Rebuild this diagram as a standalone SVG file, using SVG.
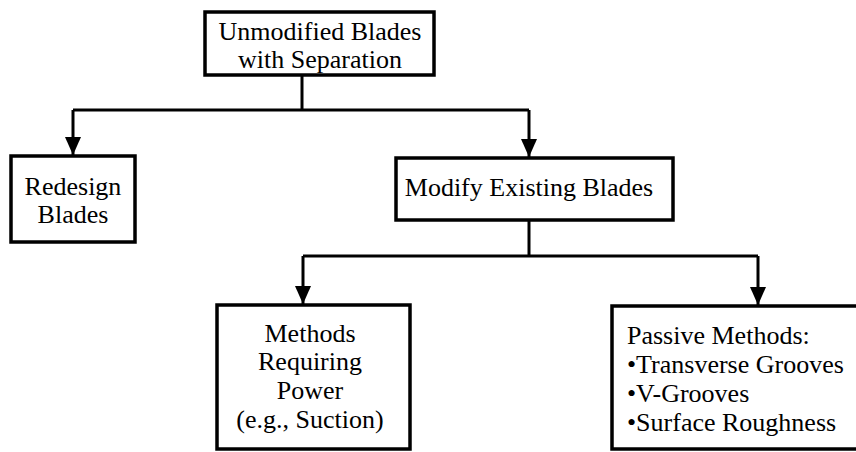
<svg xmlns="http://www.w3.org/2000/svg" width="856" height="452" viewBox="0 0 856 452">
<style>
.box{fill:#fff;stroke:#000;stroke-width:3.5}
.t{font-family:"Liberation Serif","Times New Roman",serif;font-size:26px;fill:#000}
.c{text-anchor:middle}
.ln{fill:none;stroke:#000;stroke-width:3}
</style>
<defs>
<marker id="ah" viewBox="0 0 18 16" refX="18" refY="8" markerWidth="18" markerHeight="16" markerUnits="userSpaceOnUse" orient="auto">
<path d="M0,0 L18,8 L0,16 z" fill="#000"/>
</marker>
</defs>
<rect width="856" height="452" fill="#fff"/>
<g id="connectors">
<path class="ln" d="M302,75 V110"/>
<path class="ln" d="M73,110 H529"/>
<path class="ln" d="M73,110 V155" marker-end="url(#ah)"/>
<path class="ln" d="M529,110 V157" marker-end="url(#ah)"/>
<path class="ln" d="M529,220 V256"/>
<path class="ln" d="M303,256 H758"/>
<path class="ln" d="M303,256 V304" marker-end="url(#ah)"/>
<path class="ln" d="M758,256 V305" marker-end="url(#ah)"/>
</g>
<g id="unmodified">
<rect class="box" x="205" y="12" width="229" height="63"/>
<text class="t c" x="320" y="40">Unmodified Blades</text>
<text class="t c" x="320" y="68">with Separation</text>
</g>
<g id="redesign">
<rect class="box" x="11" y="156" width="124" height="86"/>
<text class="t c" x="73" y="195">Redesign</text>
<text class="t c" x="73" y="223">Blades</text>
</g>
<g id="modify">
<rect class="box" x="396" y="158" width="277" height="62"/>
<text class="t c" x="529" y="196">Modify Existing Blades</text>
</g>
<g id="power">
<rect class="box" x="217" y="305" width="193" height="144"/>
<text class="t c" x="310" y="342">Methods</text>
<text class="t c" x="310" y="370">Requiring</text>
<text class="t c" x="310" y="399">Power</text>
<text class="t c" x="310" y="428">(e.g., Suction)</text>
</g>
<g id="passive">
<rect class="box" x="612" y="306" width="252" height="143"/>
<text class="t" x="627" y="344">Passive Methods:</text>
<text class="t" x="627" y="373">•Transverse Grooves</text>
<text class="t" x="627" y="402">•V-Grooves</text>
<text class="t" x="627" y="431">•Surface Roughness</text>
</g>
</svg>
